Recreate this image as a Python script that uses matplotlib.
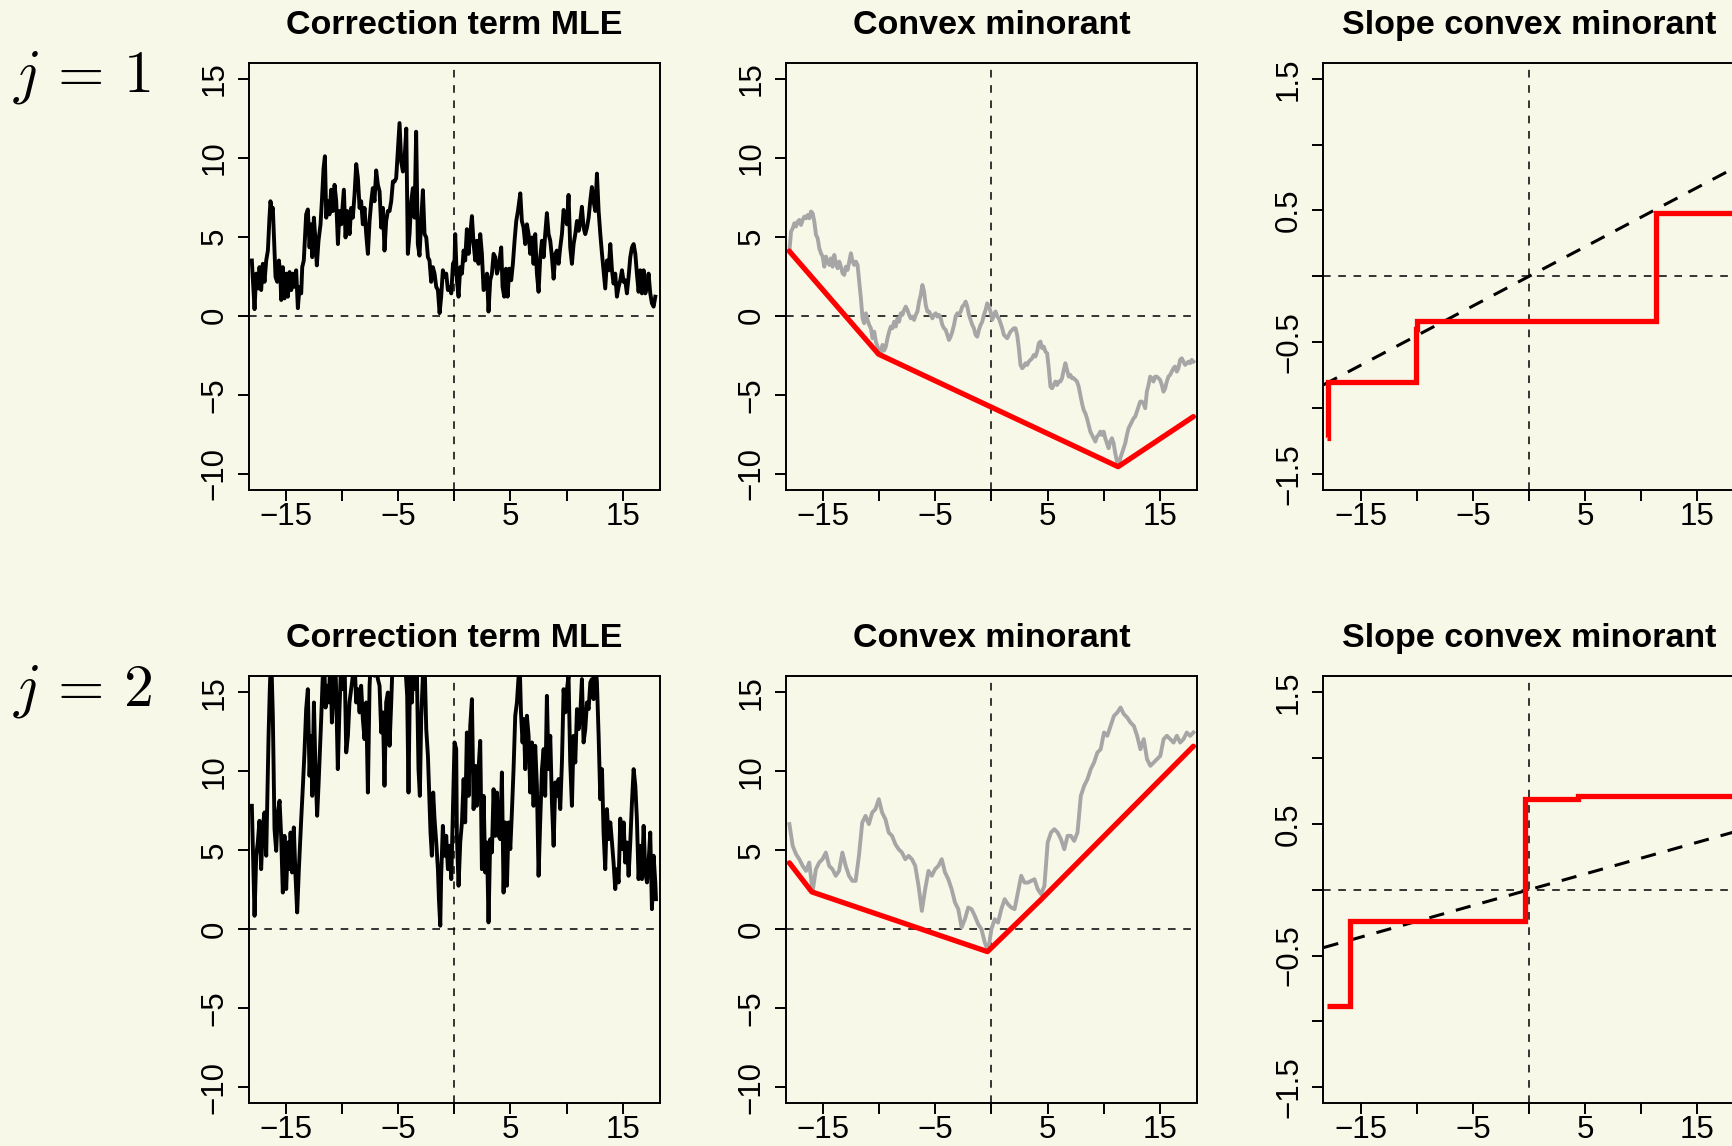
import numpy as np
import matplotlib
matplotlib.use('Agg')
import matplotlib.pyplot as plt

plt.rcParams['font.family'] = ['Liberation Sans', 'DejaVu Sans']
plt.rcParams['mathtext.fontset'] = 'cm'

BG = '#f8f8e9'

titles = ['Correction term MLE', 'Convex minorant', 'Slope convex minorant']
row_labels = [r'$j\,=\,1$', r'$j\,=\,2$']

# ---- correction term (black, noisy) as (x, y)
corr_1 = [
    (-18.04, 3.5), (-17.80, 0.42), (-17.65, 2.67), (-17.45, 1.73), (-17.36, 3.08), (-17.21, 1.63),
    (-17.06, 3.29), (-16.91, 2.15), (-16.76, 3.5), (-16.61, 4.13), (-16.47, 6.21), (-16.38, 7.25),
    (-16.26, 6.63), (-16.17, 6.83), (-16.02, 4.13), (-15.93, 2.46), (-15.78, 2.15), (-15.63, 3.5),
    (-15.51, 2.67), (-15.42, 1.0), (-15.28, 3.08), (-15.13, 1.1), (-14.98, 2.67), (-14.83, 1.21),
    (-14.68, 2.77), (-14.53, 1.63), (-14.39, 2.67), (-14.24, 1.83), (-14.09, 2.88), (-13.94, 0.48),
    (-13.79, 1.83), (-13.64, 1.42), (-13.55, 3.08), (-13.41, 3.5), (-13.29, 5.17), (-13.20, 6.42),
    (-13.05, 6.73), (-12.90, 4.33), (-12.75, 5.79), (-12.66, 3.71), (-12.51, 6.21), (-12.37, 4.75),
    (-12.25, 3.19), (-12.10, 4.75), (-11.92, 5.79), (-11.80, 7.25), (-11.65, 9.33), (-11.53, 10.1),
    (-11.41, 6.21), (-11.27, 7.25), (-11.12, 6.42), (-10.97, 7.98), (-10.82, 6.63), (-10.67, 8.29),
    (-10.52, 7.25), (-10.37, 4.54), (-10.23, 6.63), (-10.08, 5.79), (-9.84, 7.98), (-9.69, 4.96),
    (-9.54, 6.63), (-9.33, 5.17), (-9.19, 6.83), (-9.04, 6.21), (-8.89, 7.67), (-8.74, 9.6),
    (-8.59, 8.71), (-8.44, 6.83), (-8.30, 7.25), (-8.15, 5.79), (-8.00, 6.83), (-7.85, 5.17),
    (-7.70, 3.92), (-7.55, 6.0), (-7.40, 7.25), (-7.26, 8.08), (-7.11, 7.25), (-6.96, 9.2),
    (-6.81, 8.29), (-6.66, 7.88), (-6.51, 5.58), (-6.36, 6.83), (-6.22, 4.13), (-6.07, 6.0),
    (-5.92, 6.63), (-5.77, 6.63), (-5.62, 7.25), (-5.47, 8.5), (-5.32, 8.5), (-5.18, 8.71),
    (-5.03, 10.5), (-4.88, 12.2), (-4.73, 9.75), (-4.58, 9.13), (-4.43, 9.96), (-4.28, 11.85),
    (-4.14, 3.92), (-3.99, 5.17), (-3.84, 7.25), (-3.69, 8.08), (-3.54, 6.21), (-3.40, 11.65),
    (-3.25, 4.54), (-3.10, 3.81), (-2.95, 6.0), (-2.80, 7.95), (-2.65, 5.17), (-2.50, 4.96),
    (-2.35, 3.71), (-2.21, 3.5), (-2.06, 2.15), (-1.91, 3.08), (-1.76, 2.67), (-1.61, 1.83),
    (-1.46, 1.63), (-1.31, 0.17), (-1.17, 1.21), (-1.02, 2.88), (-0.87, 2.46), (-0.72, 2.67),
    (-0.57, 1.63), (-0.42, 1.83), (-0.27, 1.42), (-0.12, 3.29), (0.02, 3.5), (0.08, 5.17),
    (0.23, 2.25), (0.38, 1.21), (0.53, 3.08), (0.68, 2.67), (0.83, 4.13), (0.97, 3.5),
    (1.12, 5.48), (1.27, 3.92), (1.42, 5.17), (1.57, 6.31), (1.72, 4.54), (1.87, 3.5),
    (2.01, 4.75), (2.16, 3.29), (2.31, 5.17), (2.46, 3.92), (2.61, 1.63), (2.76, 1.83),
    (2.91, 2.67), (3.05, 0.27), (3.20, 2.25), (3.35, 2.67), (3.50, 3.92), (3.65, 3.71),
    (3.80, 2.67), (3.95, 3.08), (4.18, 4.33), (4.30, 1.83), (4.45, 1.21), (4.60, 2.98),
    (4.75, 1.21), (4.90, 2.98), (5.07, 2.25), (5.22, 3.29), (5.37, 4.75), (5.52, 6.0),
    (5.67, 6.63), (5.88, 7.75), (6.02, 6.0), (6.17, 5.58), (6.32, 4.54), (6.47, 5.79),
    (6.62, 5.17), (6.77, 3.92), (6.92, 4.96), (7.06, 3.29), (7.21, 5.17), (7.36, 2.67),
    (7.51, 1.52), (7.66, 3.71), (7.81, 4.75), (7.96, 3.71), (8.10, 5.17), (8.25, 6.5),
    (8.40, 5.17), (8.55, 4.75), (8.70, 3.71), (8.85, 2.35), (9.00, 3.92), (9.14, 4.13),
    (9.29, 3.29), (9.44, 4.33), (9.59, 5.17), (9.74, 6.7), (9.89, 6.21), (10.04, 5.79),
    (10.18, 7.65), (10.33, 4.33), (10.48, 3.29), (10.63, 4.54), (10.78, 5.17), (10.93, 6.0),
    (11.08, 5.38), (11.22, 6.0), (11.37, 6.9), (11.52, 5.58), (11.67, 5.17), (11.82, 5.58),
    (11.97, 6.21), (12.12, 7.3), (12.26, 8.15), (12.41, 7.25), (12.56, 6.63), (12.71, 9.0),
    (12.86, 6.63), (13.01, 5.17), (13.16, 3.92), (13.30, 2.88), (13.45, 1.73), (13.60, 3.5),
    (13.75, 2.88), (13.90, 4.54), (14.05, 2.88), (14.19, 2.04), (14.34, 2.67), (14.49, 1.21),
    (14.64, 1.83), (14.79, 2.25), (14.94, 2.88), (15.09, 2.15), (15.23, 2.25), (15.38, 1.42),
    (15.53, 2.46), (15.68, 3.71), (15.83, 4.33), (15.98, 4.54), (16.13, 3.92), (16.27, 2.67),
    (16.42, 1.52), (16.57, 2.88), (16.72, 1.42), (16.87, 2.88), (17.02, 1.42), (17.17, 1.83),
    (17.31, 2.67), (17.46, 1.42), (17.61, 0.79), (17.76, 0.58), (17.91, 1.21),
]

corr_2 = [
    (-18.04, 7.81), (-17.80, 0.85), (-17.65, 4.65), (-17.51, 5.49), (-17.36, 6.86), (-17.21, 3.8),
    (-17.06, 6.54), (-16.91, 7.39), (-16.76, 4.65), (-16.67, 8.02), (-16.55, 12.24), (-16.44, 15.19),
    (-16.32, 17.5), (-16.17, 13.51), (-16.02, 6.33), (-15.87, 4.96), (-15.72, 7.39), (-15.57, 8.13),
    (-15.43, 5.91), (-15.28, 2.32), (-15.13, 5.91), (-14.98, 2.54), (-14.83, 5.49), (-14.68, 3.8),
    (-14.59, 6.12), (-14.45, 3.59), (-14.30, 6.44), (-14.15, 3.38), (-14.00, 1.06), (-13.85, 3.8),
    (-13.64, 6.97), (-13.49, 9.08), (-13.35, 11.19), (-13.20, 13.93), (-13.05, 15.19), (-12.90, 9.71),
    (-12.75, 12.24), (-12.66, 8.44), (-12.51, 14.35), (-12.37, 10.13), (-12.22, 7.18), (-12.10, 9.08),
    (-11.98, 11.19), (-11.86, 13.3), (-11.74, 15.62), (-11.62, 17.5), (-11.47, 14.03), (-11.33, 15.41),
    (-11.18, 14.35), (-11.03, 17.5), (-10.91, 13.08), (-10.76, 15.19), (-10.61, 17.5), (-10.50, 14.14),
    (-10.38, 10.13), (-10.23, 13.93), (-10.08, 17.0), (-9.93, 15.19), (-9.78, 17.0), (-9.63, 11.19),
    (-9.48, 12.24), (-9.34, 14.35), (-9.19, 15.19), (-9.04, 16.04), (-8.89, 17.0), (-8.74, 14.35),
    (-8.59, 15.19), (-8.44, 13.72), (-8.30, 15.41), (-8.15, 13.3), (-8.00, 12.03), (-7.85, 14.35),
    (-7.70, 8.65), (-7.55, 15.41), (-7.40, 17.5), (-7.26, 17.0), (-7.11, 16.04), (-6.96, 17.0),
    (-6.81, 15.83), (-6.66, 15.41), (-6.51, 12.45), (-6.36, 13.72), (-6.22, 9.08), (-6.07, 14.35),
    (-5.92, 14.98), (-5.77, 11.61), (-5.62, 14.35), (-5.47, 17.5), (-5.32, 18.0), (-5.18, 18.0),
    (-5.03, 17.5), (-4.73, 18.0), (-4.43, 17.5), (-4.20, 14.77), (-4.08, 8.65), (-3.93, 17.0),
    (-3.78, 14.35), (-3.66, 17.0), (-3.48, 15.19), (-3.33, 16.04), (-3.19, 10.13), (-3.07, 8.44),
    (-2.95, 13.3), (-2.80, 16.04), (-2.65, 17.0), (-2.50, 12.66), (-2.35, 10.97), (-2.21, 8.02),
    (-2.12, 6.12), (-2.00, 4.65), (-1.88, 8.65), (-1.76, 6.97), (-1.61, 5.49), (-1.46, 3.8),
    (-1.37, 1.9), (-1.25, 0.22), (-1.17, 3.38), (-1.02, 6.54), (-0.87, 4.65), (-0.72, 5.91),
    (-0.57, 3.8), (-0.42, 5.28), (-0.27, 3.17), (-0.12, 7.6), (0.02, 11.82), (0.17, 11.4),
    (0.23, 5.91), (0.38, 2.75), (0.53, 5.49), (0.68, 6.76), (0.83, 9.5), (0.97, 6.76),
    (1.12, 12.45), (1.27, 8.44), (1.42, 12.87), (1.57, 14.56), (1.72, 7.6), (1.87, 10.34),
    (2.01, 7.81), (2.16, 10.13), (2.31, 11.92), (2.46, 3.8), (2.61, 8.44), (2.76, 3.59),
    (2.91, 5.49), (3.05, 0.43), (3.20, 5.7), (3.35, 4.86), (3.50, 8.86), (3.65, 5.91),
    (3.80, 8.65), (3.95, 5.91), (4.09, 5.7), (4.24, 9.92), (4.39, 2.32), (4.54, 6.76),
    (4.69, 2.75), (4.84, 6.76), (4.99, 5.07), (5.13, 7.39), (5.28, 10.13), (5.43, 13.51),
    (5.58, 14.35), (5.73, 16.04), (5.82, 17.0), (5.94, 13.72), (6.08, 11.82), (6.20, 13.3),
    (6.32, 10.13), (6.47, 13.51), (6.62, 12.24), (6.77, 8.65), (6.92, 11.82), (7.06, 7.81),
    (7.21, 11.61), (7.36, 9.08), (7.51, 3.38), (7.66, 6.97), (7.81, 10.13), (7.96, 11.4),
    (8.10, 8.44), (8.25, 14.77), (8.40, 10.13), (8.55, 12.24), (8.70, 8.02), (8.85, 5.28),
    (9.00, 9.29), (9.14, 8.44), (9.29, 9.5), (9.44, 7.6), (9.59, 10.55), (9.74, 15.19),
    (9.89, 13.72), (10.04, 15.19), (10.18, 16.04), (10.33, 10.55), (10.48, 7.81), (10.63, 12.24),
    (10.78, 10.55), (10.93, 13.93), (11.08, 12.66), (11.22, 13.51), (11.37, 15.83), (11.52, 11.82),
    (11.67, 12.66), (11.82, 14.35), (11.97, 13.93), (12.12, 15.62), (12.26, 15.83), (12.41, 14.56),
    (12.56, 17.0), (12.71, 15.62), (12.86, 12.24), (13.01, 8.23), (13.16, 10.13), (13.30, 6.12),
    (13.45, 3.8), (13.60, 7.6), (13.75, 5.7), (13.90, 6.76), (14.05, 5.49), (14.19, 4.22),
    (14.34, 2.54), (14.49, 3.8), (14.64, 2.96), (14.79, 7.0), (14.94, 5.07), (15.09, 6.76),
    (15.23, 4.22), (15.38, 5.49), (15.53, 3.38), (15.68, 5.49), (15.83, 8.02), (15.98, 10.13),
    (16.13, 9.08), (16.27, 6.97), (16.42, 3.17), (16.57, 5.28), (16.72, 3.17), (16.87, 6.54),
    (17.02, 3.59), (17.17, 2.96), (17.31, 4.22), (17.46, 6.12), (17.61, 1.27), (17.76, 4.65),
    (17.91, 2.96), (17.97, 1.9),
]

# ---- cumulative process (grey), evenly spaced over [-18, 18]
grey_1 = [
    4.1, 5.33, 5.54, 5.86, 5.65, 5.96, 6.07, 5.75, 6.07, 6.28, 6.17, 6.38, 6.17, 6.6, 6.49, 5.96,
    5.12, 4.91, 4.27, 3.96, 3.75, 3.11, 3.75, 3.43, 3.22, 3.64, 3.11, 3.85, 3.33, 3.01, 3.43, 3.11,
    2.69, 2.59, 3.11, 2.9, 3.43, 3.96, 3.43, 3.22, 3.43, 3.22, 2.16, 1.11, -0.16, -0.47, 0.16, -0.26,
    -0.58, -0.79, -1.42, -1.0, -1.63, -1.95, -2.2, -2.4, -1.84, -2.2, -1.95, -1.42, -1.0, -0.68,
    -0.79, -0.37, -0.68, -0.16, -0.37, 0.16, 0.06, 0.37, 0.58, 0.37, 0.06, -0.16, -0.05, -0.26,
    0.06, 0.27, 0.9, 1.32, 1.95, 1.53, 0.69, 0.27, 0.27, 0.06, -0.16, 0.06, 0.16, -0.05, 0.06,
    -0.16, -0.58, -0.79, -0.89, -1.21, -1.53, -1.32, -1.0, -0.58, -0.05, 0.16, 0.06, 0.27, 0.58,
    0.69, 0.9, 0.58, 0.06, -0.26, -0.58, -0.79, -1.21, -1.32, -0.89, -0.58, -0.37, 0.06, 0.37,
    0.79, 0.58, 0.27, -0.26, 0.06, 0.27, -0.05, -0.16, -0.47, -0.79, -1.21, -1.32, -1.42, -1.21,
    -1.0, -0.89, -0.79, -0.79, -1.21, -2.05, -3.11, -3.32, -3.21, -3.0, -3.11, -2.9, -2.79, -2.69,
    -2.48, -2.58, -2.27, -1.74, -1.63, -2.05, -1.95, -2.27, -2.37, -3.32, -4.48, -4.59, -4.38,
    -4.16, -4.38, -4.16, -4.16, -3.95, -3.43, -3.0, -3.43, -3.85, -3.74, -3.95, -3.95, -4.06,
    -4.16, -4.48, -5.01, -5.54, -5.96, -6.17, -6.49, -6.91, -7.33, -7.54, -7.75, -7.96, -7.65,
    -7.54, -7.33, -7.54, -7.33, -7.75, -8.07, -8.38, -7.96, -7.75, -8.07, -8.7, -9.2, -9.5, -9.02,
    -8.7, -8.38, -8.07, -7.54, -7.12, -6.91, -6.7, -6.49, -6.38, -6.06, -5.75, -5.43, -5.43,
    -5.54, -5.85, -4.8, -4.38, -3.85, -3.95, -4.16, -3.85, -3.85, -3.95, -4.06, -4.38, -4.8,
    -4.59, -4.16, -3.85, -3.74, -3.53, -3.32, -3.21, -3.53, -3.32, -2.79, -2.69, -2.9, -3.11,
    -3.0, -2.9, -3.0, -2.79, -2.9,
]

grey_2 = [
    6.65, 5.27, 4.75, 4.43, 4.01, 3.69, 4.22, 2.36, 3.8, 4.22, 4.43, 4.85, 4.01, 3.8, 3.38, 3.69,
    4.85, 4.01, 3.38, 3.06, 3.06, 4.64, 6.75, 7.17, 6.65, 7.38, 7.6, 8.23, 7.38, 6.96, 6.12, 5.91,
    5.38, 5.06, 4.85, 4.43, 4.64, 4.43, 4.01, 2.74, 1.16, 2.53, 3.69, 3.38, 3.8, 4.01, 4.43, 3.59,
    3.16, 2.53, 1.69, 1.27, 0.11, 0.63, 1.37, 1.27, 0.84, 0.32, 0.0, -0.84, -1.4, 0.0, 0.63,
    0.42, 1.27, 1.9, 1.58, 1.37, 1.27, 2.32, 3.38, 2.95, 2.95, 3.06, 3.16, 2.53, 2.22, 2.74,
    5.49, 6.12, 6.33, 6.12, 5.7, 5.06, 5.91, 5.91, 5.59, 6.12, 8.44, 9.07, 9.49, 10.13, 10.55,
    11.18, 11.39, 12.45, 12.24, 12.87, 13.5, 13.71, 14.03, 13.61, 13.4, 13.08, 12.87, 12.24,
    11.39, 12.03, 10.76, 10.34, 10.55, 10.76, 10.97, 12.03, 12.24, 12.03, 11.81, 12.24, 11.81,
    12.03, 12.45, 12.24, 12.45,
]

# ---- convex minorant (red): knots
minorant_1_x = [-18.0, -17.96, -10.05, 11.29, 18.0]
minorant_1_y = [4.1, 4.05, -2.43, -9.55, -6.38]
minorant_2_x = [-18.0, -16.0, -0.35, 4.4, 18.0]
minorant_2_y = [4.2, 2.36, -1.42, 1.86, 11.58]

# ---- slope of the convex minorant (red steps)
slope_1_breaks = [-18.0, -17.96, -10.08, -9.95, 11.29, 18.1]
slope_1_values = [-1.23, -0.80, -0.40, -0.34, 0.48]
slope_2_breaks = [-18.0, -15.95, -0.36, 4.4, 18.1]
slope_2_values = [-0.88, -0.24, 0.69, 0.715]

# dashed reference line through the origin in the slope panels
ref_slope = [0.045, 0.024]

x_ticks = [-15, -10, -5, 0, 5, 10, 15]
x_labels = ['\u221215', '', '\u22125', '', '5', '', '15']
y_ticks = [-10, -5, 0, 5, 10, 15]
y_labels = ['\u221210', '\u22125', '0', '5', '10', '15']
s_ticks = [-1.5, -1.0, -0.5, 0, 0.5, 1.0, 1.5]
s_labels = ['\u22121.5', '', '\u22120.5', '', '0.5', '', '1.5']

W, H = 1733, 1146
fig = plt.figure(figsize=(W / 100, H / 100), dpi=100, facecolor=BG)

box_left = [248.7, 785.8, 1323.5]
box_top = [63.0, 676.4]
box_w, box_h = 411.2, 426.6


def make_axes(r, c):
    ax = fig.add_axes([box_left[c] / W, 1 - (box_top[r] + box_h) / H, box_w / W, box_h / H])
    ax.set_facecolor(BG)
    ax.set_xlim(-18.32, 18.32)
    ax.set_xticks(x_ticks)
    ax.set_xticklabels(x_labels)
    if c < 2:
        ax.set_ylim(-11, 16)
        ax.set_yticks(y_ticks)
        ax.set_yticklabels(y_labels, rotation=90, va='center')
    else:
        ax.set_ylim(-1.62, 1.62)
        ax.set_yticks(s_ticks)
        ax.set_yticklabels(s_labels, rotation=90, va='center')
    ax.tick_params(length=8, width=1.4, labelsize=22.5, colors='black')
    ax.tick_params(axis='x', pad=1)
    ax.tick_params(axis='y', pad=6)
    for sp in ax.spines.values():
        sp.set_linewidth(1.4)
    ax.axhline(0, color='black', lw=1.1, ls=(0, (5, 5)), zorder=1)
    ax.axvline(0, color='black', lw=1.1, ls=(0, (5, 5)), zorder=1)
    ax.set_title(titles[c], fontsize=24.5, fontweight='bold', pad=21)
    return ax


corr = [corr_1, corr_2]
grey = [grey_1, grey_2]
mx = [minorant_1_x, minorant_2_x]
my = [minorant_1_y, minorant_2_y]
sb = [slope_1_breaks, slope_2_breaks]
sv = [slope_1_values, slope_2_values]

for r in range(2):
    ax = make_axes(r, 0)
    cx, cy = np.array(corr[r]).T
    ax.plot(cx, cy, color='black', lw=2.8, solid_joinstyle='round', zorder=3)

    ax = make_axes(r, 1)
    gx = np.linspace(-18, 18, len(grey[r]))
    ax.plot(gx, grey[r], color='#a6a6a6', lw=2.8, solid_joinstyle='round', zorder=2)
    ax.plot(mx[r], my[r], color='#ff0000', lw=3.8, solid_capstyle='round', zorder=3)

    ax = make_axes(r, 2)
    ax.axline((0, 0), slope=ref_slope[r], color='black', lw=2.2, ls=(0, (5, 4)), zorder=2)
    ax.stairs(sv[r], sb[r], baseline=None, color='#ff0000', lw=3.8, zorder=3)

    fig.text(13 / W, 1 - (92 + 613.4 * r) / H, row_labels[r], fontsize=43, ha='left', va='baseline')

fig.savefig('out.png', dpi=100, facecolor=BG)
